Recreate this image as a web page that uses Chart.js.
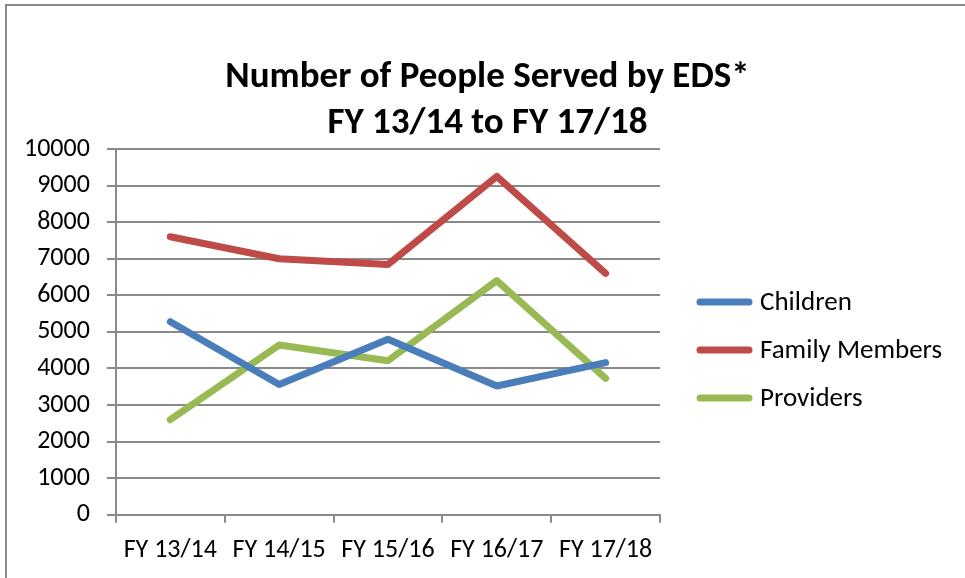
<!DOCTYPE html>
<html>
<head>
<meta charset="utf-8">
<script src="https://cdn.jsdelivr.net/npm/chart.js@4/dist/chart.umd.min.js"></script>
<style>
  body { margin: 0; background: #fff; }
  #wrap { position: relative; width: 965px; height: 578px; }
  #frame {
    position: absolute; left: 5px; top: 4px; right: 0; bottom: 0;
    border-left: 2px solid #8a8a8a; border-top: 2px solid #8a8a8a;
    pointer-events: none;
  }
</style>
</head>
<body>
<div id="wrap">
  <canvas id="chart" width="965" height="578"></canvas>
  <div id="frame"></div>
</div>
<script>
// fiscal years on the x axis
const years = ["FY 13/14", "FY 14/15", "FY 15/16", "FY 16/17", "FY 17/18"];

// people served per year
const children = [5280, 3560, 4800, 3520, 4160];
const familyMembers = [7600, 7000, 6840, 9250, 6600];
const providers = [2600, 4640, 4210, 6400, 3730];

const titleLines = ["Number of People Served by EDS*", "FY 13/14 to FY 17/18"];

const fontFamily = "Carlito, Calibri, 'Open Sans', sans-serif";
const gridGray = '#8a8a8a';

let ctx = document.getElementById('chart').getContext('2d'),
myChart;

// title centred on the whole canvas and legend to the right of the plot
// (the right side is kept free with layout padding, so both are drawn here)
const sideBoxes = {
    id: 'sideBoxes',
    afterDraw(chart) {
        const c = chart.ctx, area = chart.chartArea;
        c.save();
        c.fillStyle = '#000';

        c.font = 'bold 37px ' + fontFamily;
        c.textAlign = 'center';
        c.textBaseline = 'alphabetic';
        titleLines.forEach((line, i) => {
            c.fillText(line, chart.width / 2 + 5, area.top - 62 + i * 46);
        });

        const mid = (area.top + area.bottom) / 2 + 18;
        const x0 = area.right + 40;
        c.font = '27px ' + fontFamily;
        c.textAlign = 'left';
        c.textBaseline = 'middle';
        chart.data.datasets.forEach((ds, i) => {
            const y = mid + (i - 1) * 48;
            c.beginPath();
            c.lineWidth = ds.borderWidth;
            c.lineCap = 'round';
            c.strokeStyle = ds.borderColor;
            c.moveTo(x0, y);
            c.lineTo(x0 + 49, y);
            c.stroke();
            c.fillText(ds.label, x0 + 60, y + 1);
        });
        c.restore();
    }
};

myChart = new Chart(ctx, {
    type: 'line',
    data: {
        labels: years,
        datasets: [{
            label: "Children",
            data: children,
            borderWidth: 7,
            borderColor: '#4a7ebb',
            backgroundColor: '#4a7ebb',
        },
        {
            label: "Family Members",
            data: familyMembers,
            borderWidth: 7,
            borderColor: '#be4b48',
            backgroundColor: '#be4b48',
        },
        {
            label: "Providers",
            data: providers,
            borderWidth: 7,
            borderColor: '#98b954',
            backgroundColor: '#98b954',
        }]
    },
    options: {
        responsive: false,
        animation: false,
        layout: {
            padding: { top: 149, left: 7, right: 305, bottom: 0 }
        },
        elements: {
            point: { radius: 0, hoverRadius: 0 },
            line: { tension: 0, borderCapStyle: 'round', borderJoinStyle: 'round' }
        },
        scales: {
            y: {
                min: 0,
                max: 10000,
                ticks: {
                    stepSize: 1000,
                    color: '#000',
                    padding: 17,
                    format: { useGrouping: false },
                    font: { family: fontFamily, size: 26 }
                },
                grid: { color: gridGray, lineWidth: 2, tickLength: 9 },
                border: { color: gridGray, width: 2 }
            },
            x: {
                offset: true,
                ticks: {
                    color: '#000',
                    padding: 12,
                    maxRotation: 0,
                    font: { family: fontFamily, size: 26 }
                },
                grid: { offset: true, drawOnChartArea: false, color: gridGray, lineWidth: 2, tickLength: 8 },
                border: { color: gridGray, width: 2 }
            }
        },
        plugins: {
            title: { display: false },
            legend: { display: false },
            tooltip: { enabled: false }
        }
    },
    plugins: [sideBoxes]
});
</script>
</body>
</html>
